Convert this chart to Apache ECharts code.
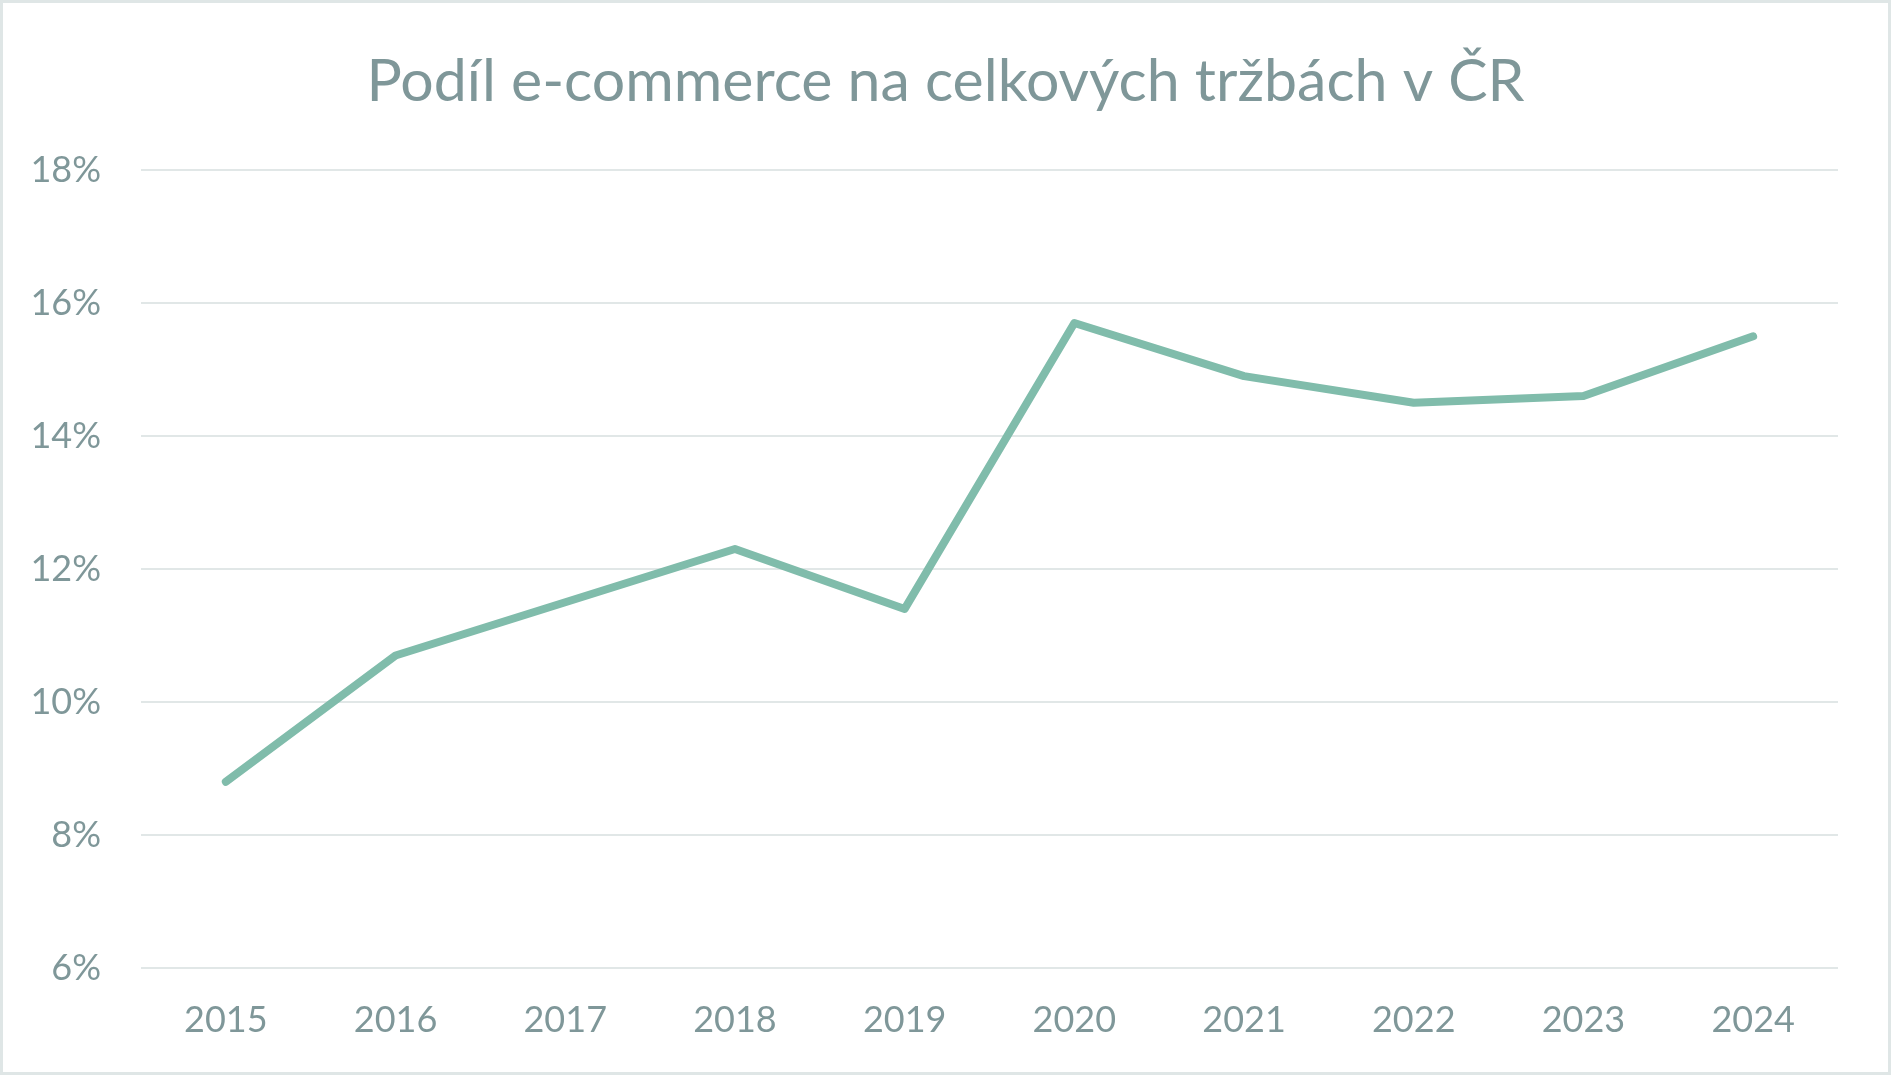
<!DOCTYPE html>
<html>
<head>
<meta charset="utf-8">
<script src="https://cdn.jsdelivr.net/npm/echarts@6/dist/echarts.min.js"></script>
<style>
html,body{margin:0;padding:0;background:#fff;}
#wrap{position:absolute;left:0;top:0;width:1891px;height:1075px;box-sizing:border-box;border:3px solid #dfe6e6;}
#chart{width:1885px;height:1069px;}
</style>
</head>
<body>
<div id="wrap"><div id="chart"></div></div>
<script>
const titleText = 'Podíl e-commerce na celkových tržbách v ČR';
const years = ['2015','2016','2017','2018','2019','2020','2021','2022','2023','2024'];
const shareValues = [8.8, 10.7, 11.5, 12.3, 11.4, 15.7, 14.9, 14.5, 14.6, 15.5];
const yMin = 6, yMax = 18, yStep = 2;

const textColor = '#7f9799';
const fontFam = 'Lato, "Open Sans", sans-serif';
const chart = echarts.init(document.getElementById('chart'));
chart.setOption({
  animation: false,
  title: {
    text: titleText,
    left: 'center',
    top: 44,
    textStyle: {color: textColor, fontFamily: fontFam, fontSize: 59, fontWeight: 'normal'}
  },
  grid: {left: 138, right: 50, top: 167, bottom: 104, containLabel: false},
  xAxis: {
    type: 'category',
    data: years,
    boundaryGap: true,
    axisLine: {show: false},
    axisTick: {show: false},
    axisLabel: {color: textColor, fontFamily: fontFam, fontSize: 36, margin: 34}
  },
  yAxis: {
    type: 'value',
    min: yMin, max: yMax, interval: yStep,
    axisLine: {show: false},
    axisTick: {show: false},
    splitLine: {lineStyle: {color: '#e1e7e7', width: 2}},
    axisLabel: {color: textColor, fontFamily: fontFam, fontSize: 36, margin: 40,
      formatter: v => v + '%'}
  },
  series: [{
    type: 'line',
    data: shareValues,
    symbol: 'none',
    lineStyle: {color: '#80bcab', width: 8, cap: 'round', join: 'round'}
  }]
});
</script>
</body>
</html>
